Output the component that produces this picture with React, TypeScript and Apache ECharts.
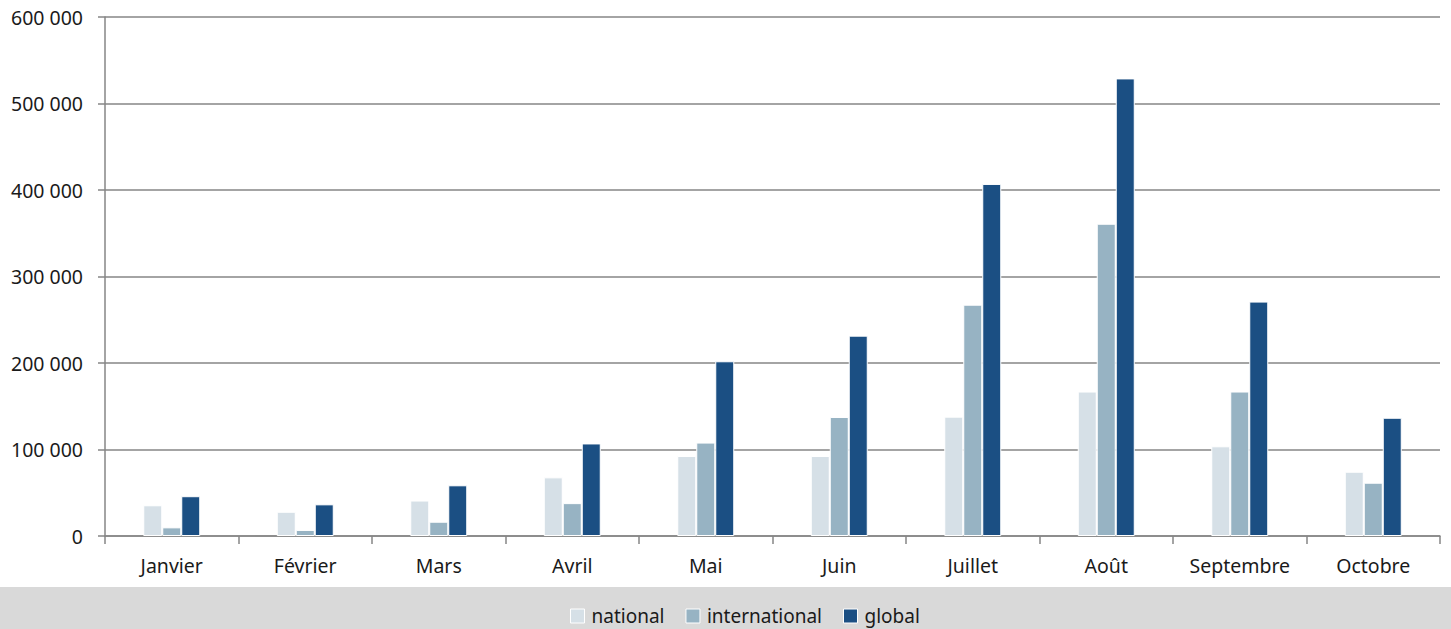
import React, { useEffect, useRef } from "react";
import * as echarts from "echarts";

const categories = ["Janvier", "Février", "Mars", "Avril", "Mai", "Juin", "Juillet", "Août", "Septembre", "Octobre"];
const national = [35500, 28000, 41000, 67800, 92500, 92500, 138000, 167000, 103700, 74300];
const international = [10000, 7000, 16500, 38000, 108000, 137600, 267400, 361000, 167000, 61600];
const globalVals = [46000, 36600, 58600, 107000, 202000, 231600, 407000, 529000, 271000, 136700];
const seriesNames = ["national", "international", "global"];
const colors = ["#d6e0e7", "#97b3c3", "#1b4f83"];

const fmt = (v: number) => {
  if (v === 0) return "0";
  const s = String(Math.round(v));
  return s.replace(/\B(?=(\d{3})+(?!\d))/g, " ");
};

export default function App() {
  const ref = useRef<HTMLDivElement>(null);
  useEffect(() => {
    document.body.style.margin = "0";
    const chart = echarts.init(ref.current!, null, { renderer: "svg" });
    const font = "'Noto Sans', 'Open Sans', sans-serif";
    const data = [national, international, globalVals];
    chart.setOption({
      animation: false,
      textStyle: { fontFamily: font },
      graphic: [
        {
          type: "rect",
          left: 0,
          top: 587,
          shape: { width: 1451, height: 42 },
          style: { fill: "#d9d9d9" },
          z: -10,
          silent: true,
        },
      ],
      grid: { left: 105, right: 11, top: 17, bottom: 93, containLabel: false },
      legend: {
        data: seriesNames,
        left: 570,
        top: 606,
        padding: 0,
        itemWidth: 14,
        itemHeight: 14,
        itemGap: 21,
        icon: "rect",
        textStyle: { fontSize: 19, lineHeight: 20, color: "#1a1a1a", fontFamily: font, padding: [0, 0, 0, 2] },
        itemStyle: { borderColor: "#ffffff", borderWidth: 1 },
      },
      xAxis: {
        type: "category",
        data: categories,
        axisLine: { lineStyle: { color: "#868686", width: 1.5 } },
        axisTick: { show: true, length: 8, lineStyle: { color: "#868686", width: 1.5 } },
        axisLabel: { fontSize: 19.5, color: "#1a1a1a", margin: 19, fontFamily: font },
        splitLine: { show: false },
      },
      yAxis: {
        type: "value",
        min: 0,
        max: 600000,
        interval: 100000,
        axisLine: { show: true, lineStyle: { color: "#868686", width: 1.5 } },
        axisTick: { show: true, length: 7, lineStyle: { color: "#868686", width: 1.5 } },
        axisLabel: { fontSize: 19.5, color: "#1a1a1a", margin: 22, formatter: fmt, fontFamily: font },
        splitLine: { show: true, lineStyle: { color: "#868686", width: 1.5 } },
      },
      series: seriesNames.map((n, i) => ({
        name: n,
        type: "bar",
        data: data[i],
        barWidth: 19,
        barGap: "0%",
        itemStyle: { color: colors[i], borderColor: "#ffffff", borderWidth: 1 },
      })),
    });
    return () => chart.dispose();
  }, []);
  return <div ref={ref} style={{ width: 1451, height: 629 }} />;
}
